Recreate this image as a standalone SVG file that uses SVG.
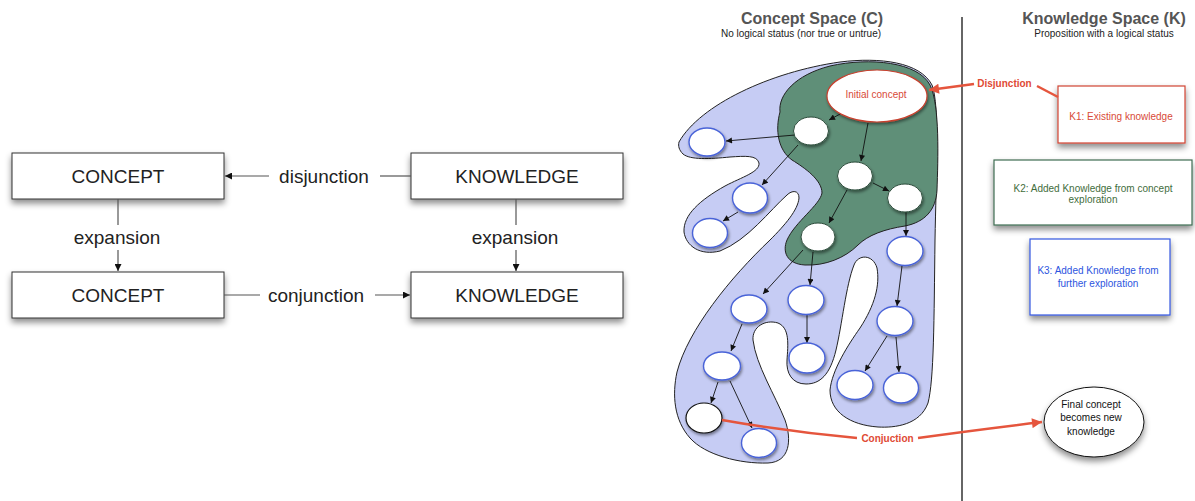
<svg xmlns="http://www.w3.org/2000/svg" width="1195" height="501" viewBox="0 0 1195 501">
<defs>
<style>
text{font-family:"Liberation Sans",Arial,sans-serif}
.lbox{fill:#fff;stroke:#333;stroke-width:1}
.lt{font-size:19px;fill:#222;text-anchor:middle}
.ll{stroke:#555;stroke-width:1.2;fill:none}
.ta{stroke:#111;stroke-width:0.9;fill:none;marker-end:url(#ta)}
.nb{fill:#fff;stroke:#4a64d8;stroke-width:1.4;filter:url(#ns)}
.ng{fill:#fff;stroke:#2d4d3c;stroke-width:1;filter:url(#ns)}
.title{font-size:16px;font-weight:bold;fill:#555;text-anchor:middle}
.sub{font-size:10px;fill:#222;text-anchor:middle}
.red{stroke:#e5553d;stroke-width:2.5;fill:none}
.st{font-size:10px;text-anchor:middle}
</style>
<filter id="bs" x="-10%" y="-20%" width="120%" height="160%">
<feDropShadow dx="0" dy="4" stdDeviation="3" flood-color="#000" flood-opacity="0.45"/>
</filter>
<filter id="ns" x="-30%" y="-30%" width="160%" height="170%">
<feDropShadow dx="1" dy="2" stdDeviation="1.5" flood-color="#000" flood-opacity="0.45"/>
</filter>
<marker id="la" viewBox="0 0 10 10" refX="10" refY="5" markerWidth="8" markerHeight="7" orient="auto" markerUnits="userSpaceOnUse"><path d="M0,0 L10,5 L0,10 z" fill="#111"/></marker>
<marker id="ta" viewBox="0 0 10 10" refX="10" refY="5" markerWidth="7" markerHeight="6" orient="auto" markerUnits="userSpaceOnUse"><path d="M0,0 L10,5 L0,10 z" fill="#111"/></marker>
<marker id="ra" viewBox="0 0 10 10" refX="10" refY="5" markerWidth="13" markerHeight="10" orient="auto" markerUnits="userSpaceOnUse"><path d="M0,0 L10,5 L0,10 z" fill="#e5553d"/></marker>
</defs>
<rect width="1195" height="501" fill="#fff"/>

<!-- Left diagram -->
<g id="concept1"><rect class="lbox" x="12" y="153" width="212" height="46" filter="url(#bs)"/><text class="lt" x="118" y="183">CONCEPT</text></g>
<g id="knowledge1"><rect class="lbox" x="411" y="153" width="212" height="46" filter="url(#bs)"/><text class="lt" x="517" y="183">KNOWLEDGE</text></g>
<g id="concept2"><rect class="lbox" x="12" y="272" width="212" height="46" filter="url(#bs)"/><text class="lt" x="118" y="302">CONCEPT</text></g>
<g id="knowledge2"><rect class="lbox" x="411" y="272" width="212" height="46" filter="url(#bs)"/><text class="lt" x="517" y="302">KNOWLEDGE</text></g>
<g id="left-connectors">
<line class="ll" x1="411" y1="176" x2="380" y2="176"/>
<line class="ll" x1="269" y1="176" x2="225" y2="176" marker-end="url(#la)"/>
<text class="lt" x="324" y="183">disjunction</text>
<line class="ll" x1="224" y1="295" x2="260" y2="295"/>
<line class="ll" x1="375" y1="295" x2="410" y2="295" marker-end="url(#la)"/>
<text class="lt" x="316" y="302">conjunction</text>
<line class="ll" x1="118" y1="199" x2="118" y2="225"/>
<line class="ll" x1="118" y1="250" x2="118" y2="271" marker-end="url(#la)"/>
<text class="lt" x="117" y="244">expansion</text>
<line class="ll" x1="516" y1="199" x2="516" y2="225"/>
<line class="ll" x1="516" y1="250" x2="516" y2="271" marker-end="url(#la)"/>
<text class="lt" x="515" y="244">expansion</text>
</g>

<!-- Right diagram -->
<text class="title" x="812" y="24">Concept Space (C)</text>
<text class="sub" x="801" y="37">No logical status (nor true or untrue)</text>
<text class="title" x="1104" y="24">Knowledge Space (K)</text>
<text class="sub" x="1104" y="37">Proposition with a logical status</text>
<line x1="962" y1="17" x2="962" y2="501" stroke="#333" stroke-width="1.5"/>

<g id="blue-region">
<path fill="#c6ccf4" stroke="#222" stroke-width="1" d="M679,142 C700,105 770,72 840,62 C880,57 920,62 932,85 C940,105 936,180 935,240 C934,320 934,380 928,403 C920,425 895,428 878,427 C850,425 830,412 830,390 C832,370 848,345 860,328 C875,305 880,285 877,268 C873,254 858,254 854,265 C846,285 842,325 836,350 C830,375 820,384 806,384 C792,384 786,373 787,360 C788,345 790,328 778,323 C765,319 752,327 753,340 C756,365 775,395 785,420 C792,440 790,462 768,463 C740,464 705,455 690,438 C674,420 672,395 677,372 C688,330 730,278 770,240 C785,225 798,210 799,198 C799,190 792,190 787,195 C770,210 748,240 720,251 C700,256 686,246 684,232 C683,215 700,200 725,186 C742,177 760,172 759,163 C757,155 745,156 730,157 C710,159 690,160 683,154 C679,150 678,146 679,142 Z"/>
</g>
<g id="green-region">
<path fill="#5f8f78" stroke="#222" stroke-width="1" d="M780,112 C778,95 795,75 830,66 C870,57 918,62 930,85 C940,105 938,160 937,190 C936,210 925,222 905,226 C885,229 868,235 858,245 C845,258 825,266 805,265 C787,264 782,252 787,240 C795,222 820,205 822,193 C822,180 805,168 792,160 C778,150 775,130 780,112 Z"/>
</g>

<g id="tree-connectors">
<line class="ta" x1="842" y1="113" x2="829" y2="120"/>
<line class="ta" x1="868" y1="123" x2="861" y2="161"/>
<line class="ta" x1="795" y1="135" x2="726" y2="141"/>
<line class="ta" x1="798" y1="145" x2="762" y2="185"/>
<line class="ta" x1="738" y1="212" x2="723" y2="221"/>
<line class="ta" x1="873" y1="183" x2="889" y2="191"/>
<line class="ta" x1="847" y1="190" x2="829" y2="223"/>
<line class="ta" x1="906" y1="212" x2="906" y2="236"/>
<line class="ta" x1="803" y1="250" x2="763" y2="294"/>
<line class="ta" x1="813" y1="252" x2="810" y2="285"/>
<line class="ta" x1="902" y1="266" x2="897" y2="306"/>
<line class="ta" x1="807" y1="315" x2="807" y2="343"/>
<line class="ta" x1="742" y1="324" x2="731" y2="351"/>
<line class="ta" x1="887" y1="336" x2="865" y2="371"/>
<line class="ta" x1="896" y1="337" x2="899" y2="372"/>
<line class="ta" x1="718" y1="382" x2="711" y2="403"/>
<line class="ta" x1="730" y1="381" x2="752" y2="428"/>
</g>

<g id="initial-concept"><ellipse cx="877" cy="96" rx="50" ry="26" fill="#fff" stroke="#c8402e" stroke-width="1.2" filter="url(#ns)"/><text class="st" x="876" y="98" fill="#d84a38">Initial concept</text></g>
<g id="n1"><ellipse class="ng" cx="811" cy="131" rx="17.5" ry="14"/></g>
<g id="n2"><ellipse class="nb" cx="707" cy="142" rx="18" ry="14"/></g>
<g id="n3"><ellipse class="ng" cx="855" cy="176" rx="17.5" ry="14"/></g>
<g id="n4"><ellipse class="ng" cx="905" cy="198" rx="17.5" ry="14"/></g>
<g id="n5"><ellipse class="nb" cx="750" cy="198" rx="17.5" ry="15"/></g>
<g id="n6"><ellipse class="nb" cx="710" cy="233" rx="17.5" ry="14.5"/></g>
<g id="n7"><ellipse class="ng" cx="818" cy="237" rx="17" ry="14"/></g>
<g id="n8"><ellipse class="nb" cx="905" cy="251" rx="18" ry="14.5"/></g>
<g id="n9"><ellipse class="nb" cx="749" cy="309" rx="18" ry="14"/></g>
<g id="n10"><ellipse class="nb" cx="806" cy="300" rx="18" ry="14.5"/></g>
<g id="n11"><ellipse class="nb" cx="895" cy="321" rx="18" ry="14.5"/></g>
<g id="n12"><ellipse class="nb" cx="807" cy="358" rx="18" ry="15"/></g>
<g id="n13"><ellipse class="nb" cx="722" cy="366" rx="18.5" ry="14"/></g>
<g id="n14"><ellipse class="nb" cx="855" cy="385" rx="18" ry="14.5"/></g>
<g id="n15"><ellipse class="nb" cx="901" cy="388" rx="17.5" ry="15"/></g>
<g id="n16"><ellipse cx="704" cy="418" rx="18" ry="15" fill="#fff" stroke="#111" stroke-width="1.2" filter="url(#ns)"/></g>
<g id="n17"><ellipse class="nb" cx="759" cy="443" rx="17.5" ry="14.5"/></g>

<g id="k1"><rect x="1058" y="86" width="127" height="57" fill="#fff" stroke="#d04432" stroke-width="1.2" filter="url(#bs)"/><text class="st" x="1121" y="120" fill="#d84a38" font-size="9.6">K1: Existing knowledge</text></g>
<g id="k2"><rect x="994" y="160" width="198" height="65" fill="#fff" stroke="#3f6d52" stroke-width="1.2" filter="url(#bs)"/><text class="st" x="1093" y="192" fill="#3f6d3c" font-size="9.8">K2: Added Knowledge from concept</text><text class="st" x="1093" y="203" fill="#3f6d3c" font-size="9.8">exploration</text></g>
<g id="k3"><rect x="1030" y="239" width="140" height="76" fill="#fff" stroke="#3558e0" stroke-width="1.2" filter="url(#bs)"/><text class="st" x="1098" y="274" fill="#2d55e0">K3: Added Knowledge from</text><text class="st" x="1098" y="287" fill="#2d55e0">further exploration</text></g>
<g id="final-concept"><ellipse cx="1094" cy="422" rx="50" ry="35" fill="#fff" stroke="#111" stroke-width="1" filter="url(#bs)"/><text class="st" x="1091" y="408" fill="#111" font-size="9.2">Final concept</text><text class="st" x="1091" y="421" fill="#111" font-size="9.2">becomes new</text><text class="st" x="1091" y="435" fill="#111" font-size="9.2">knowledge</text></g>

<g id="red-connectors">
<path class="red" d="M1058,97 L1037,86"/>
<path class="red" d="M974,84 L929,90" marker-end="url(#ra)"/>
<text x="1004.5" y="87" font-size="10" font-weight="bold" fill="#e04a35" text-anchor="middle">Disjunction</text>
<path class="red" d="M722,420 Q790,432 857,438"/>
<path class="red" d="M918,438 Q975,430 1042,422" marker-end="url(#ra)"/>
<text x="887.5" y="442" font-size="10" font-weight="bold" fill="#e04a35" text-anchor="middle">Conjuction</text>
</g>
</svg>
